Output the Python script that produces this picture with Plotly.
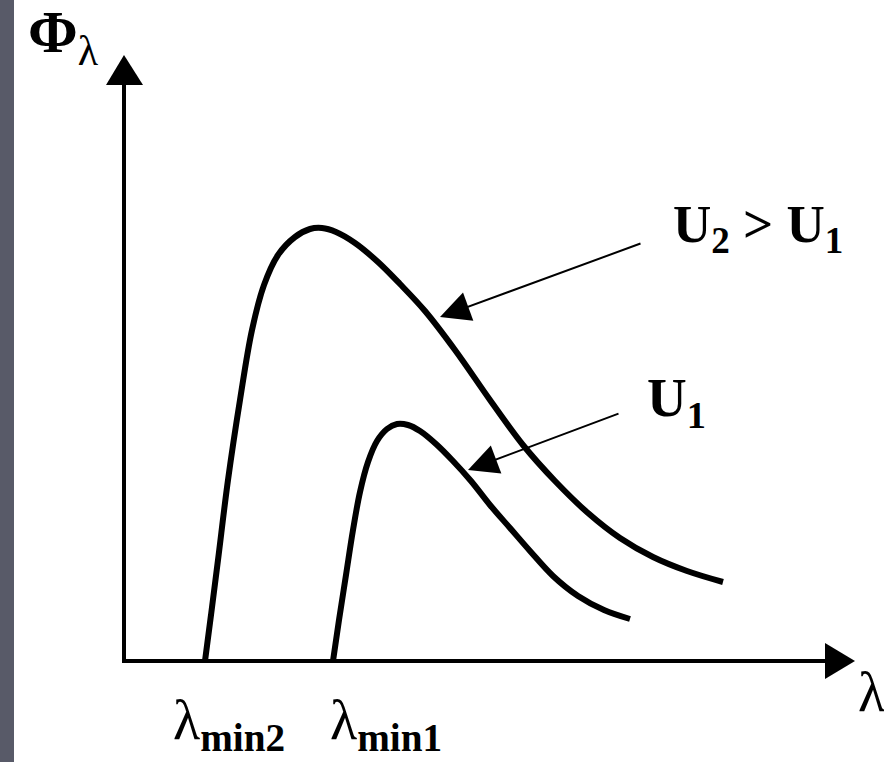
import plotly.graph_objects as go

# Wavelength / flux values (arbitrary units, origin at the axes corner)
u2_lambda = [81, 87, 94, 104, 116, 128, 140, 154, 171, 186, 198, 212, 231, 254, 276, 301, 331, 366, 399, 431, 464, 496, 529, 563, 599]
u2_flux = [0, 46, 101, 181, 261, 331, 376, 406, 424, 432, 433, 429, 418, 399, 377, 350, 311, 261, 216, 180, 148, 123, 104, 90, 79]

u1_lambda = [209, 215, 222, 229, 236, 244, 253, 263, 273, 284, 296, 312, 329, 347, 366, 386, 406, 429, 454, 480, 506]
u1_flux = [0, 41, 86, 131, 169, 199, 220, 232, 237, 236, 230, 217, 200, 180, 156, 133, 110, 85, 65, 51, 42]

FONT = '"Liberation Serif", "Times New Roman", Times, "DejaVu Serif", serif'

fig = go.Figure()
for lx, fy in [(u2_lambda, u2_flux), (u1_lambda, u1_flux)]:
    fig.add_trace(go.Scatter(x=lx, y=fy, mode="lines",
                             line=dict(color="black", width=6, shape="spline", smoothing=1.0),
                             hoverinfo="skip", showlegend=False))

shapes = [
    # left decorative stripe
    dict(type="rect", xref="paper", yref="paper", x0=0, x1=14/884, y0=0, y1=1,
         fillcolor="#585a68", line=dict(width=0), layer="below"),
    # axes
    dict(type="line", x0=0, y0=0, x1=0, y1=580, line=dict(color="black", width=4)),
    dict(type="line", x0=-2, y0=0, x1=705, y1=0, line=dict(color="black", width=4)),
    dict(type="path", path="M 0 606 L -18 576 L 19 576 Z", fillcolor="black", line=dict(width=0)),
    dict(type="path", path="M 731 0 L 701 18 L 701 -18 Z", fillcolor="black", line=dict(width=0)),
]

annotations = [
    # pointer arrows
    dict(x=316, y=344, ax=518, ay=418, xref="x", yref="y", axref="x", ayref="y",
         text="", showarrow=True, arrowhead=2, arrowsize=3, arrowwidth=2, arrowcolor="black"),
    dict(x=344, y=191, ax=496, ay=248, xref="x", yref="y", axref="x", ayref="y",
         text="", showarrow=True, arrowhead=2, arrowsize=3, arrowwidth=2, arrowcolor="black"),
    # labels
    dict(x=-98, y=1, xref="x", yref="paper", xanchor="left", yanchor="top", yshift=3,
         showarrow=False,
         text="<b>Φ</b><sub>λ</sub>", font=dict(family=FONT, size=60, color="black")),
    dict(x=547, y=468, xref="x", yref="y", xanchor="left", yanchor="top", showarrow=False,
         text="<b>U<sub>2</sub> > U<sub>1</sub></b>", font=dict(family=FONT, size=53, color="black")),
    dict(x=521, y=296, xref="x", yref="y", xanchor="left", yanchor="top", showarrow=False,
         text="<b>U<sub>1</sub></b>", font=dict(family=FONT, size=55, color="black")),
    dict(x=47, y=-26, xref="x", yref="y", xanchor="left", yanchor="top", showarrow=False,
         text="λ<sub><b>min2</b></sub>", font=dict(family=FONT, size=56, color="black")),
    dict(x=204, y=-26, xref="x", yref="y", xanchor="left", yanchor="top", showarrow=False,
         text="λ<sub><b>min1</b></sub>", font=dict(family=FONT, size=56, color="black")),
    dict(x=732, y=2, xref="x", yref="y", xanchor="left", yanchor="top", showarrow=False,
         text="λ", font=dict(family=FONT, size=56, color="black")),
]

fig.update_layout(
    width=884, height=762,
    margin=dict(l=0, r=0, t=0, b=0),
    paper_bgcolor="white", plot_bgcolor="white",
    xaxis=dict(range=[-124, 760], visible=False, fixedrange=True),
    yaxis=dict(range=[-101, 661], visible=False, fixedrange=True),
    shapes=shapes, annotations=annotations,
    showlegend=False,
)

fig.write_html("out.html", config={"displayModeBar": False},
               post_script="document.body.style.margin='0';document.body.style.overflow='hidden';")
